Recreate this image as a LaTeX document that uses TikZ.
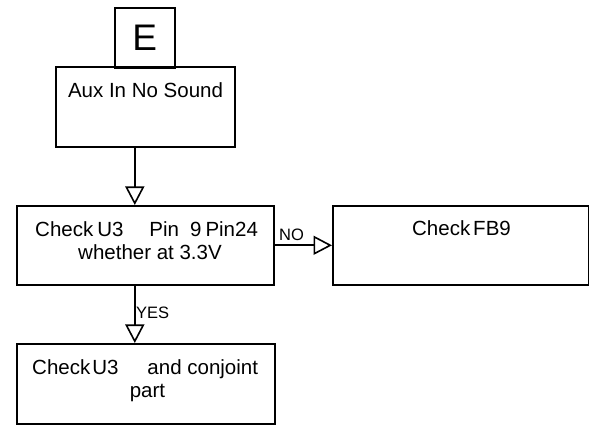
\documentclass[tikz,border=0pt]{standalone}
\usepackage{fontspec}
\setmainfont{Liberation Sans}
\usetikzlibrary{arrows.meta}
\begin{document}
\begin{tikzpicture}[x=1pt,y=-1pt,
  box/.style={draw, line width=1.6pt, inner sep=0pt, anchor=north west},
  txt/.style={font=\fontsize{20.5}{24}\selectfont, inner sep=0pt},
  lbl/.style={font=\fontsize{16.5}{18}\selectfont, inner sep=0pt},
  tip/.style={-{Triangle[open,width=19pt,length=18.5pt]}, line width=1.6pt}]
\useasboundingbox (0,0) rectangle (589,427);
% boxes
\node[box, minimum width=179pt, minimum height=80pt] (aux) at (55,66) {};
\node[box, minimum width=60pt, minimum height=60pt, font=\fontsize{37}{40}\selectfont] (e) at (114,7) {E};
\node[box, minimum width=257pt, minimum height=79pt] (chk) at (16,205) {};
\node[box, minimum width=255.5pt, minimum height=79pt] (fb) at (332,205) {};
\node[box, minimum width=258pt, minimum height=80pt] (bot) at (16,343) {};
% texts
\node[txt, anchor=base] (auxt) at (145.5,98) {Aux In No Sound};
\node[txt, anchor=base west] (chk1) at (35,236.5) {Check\hspace{4pt}U3\hspace{26pt}Pin\hspace{11pt}9\hspace{4pt}Pin24};
\node[txt, anchor=base] (chk2) at (150,260) {whether at 3.3V};
\node[txt, anchor=base] (fbt) at (461.5,236) {Check\hspace{3pt}FB9};
\node[txt, anchor=base west] (bot1) at (32,375) {Check\hspace{2pt}U3\hspace{29pt}and conjoint};
\node[txt, anchor=base] (bot2) at (147.5,398) {part};
% connectors
\coordinate (ax) at (134.8,0);
\draw[tip] (aux.south -| ax) -- (chk.north -| ax);
\draw[tip] (chk.east) -- (fb.west);
\draw[tip] (chk.south -| ax) -- (bot.north -| ax);
\node[lbl, anchor=base west] (no) at (279,241) {NO};
\node[lbl, anchor=base west] (yes) at (136,319) {YES};
\end{tikzpicture}
\end{document}
